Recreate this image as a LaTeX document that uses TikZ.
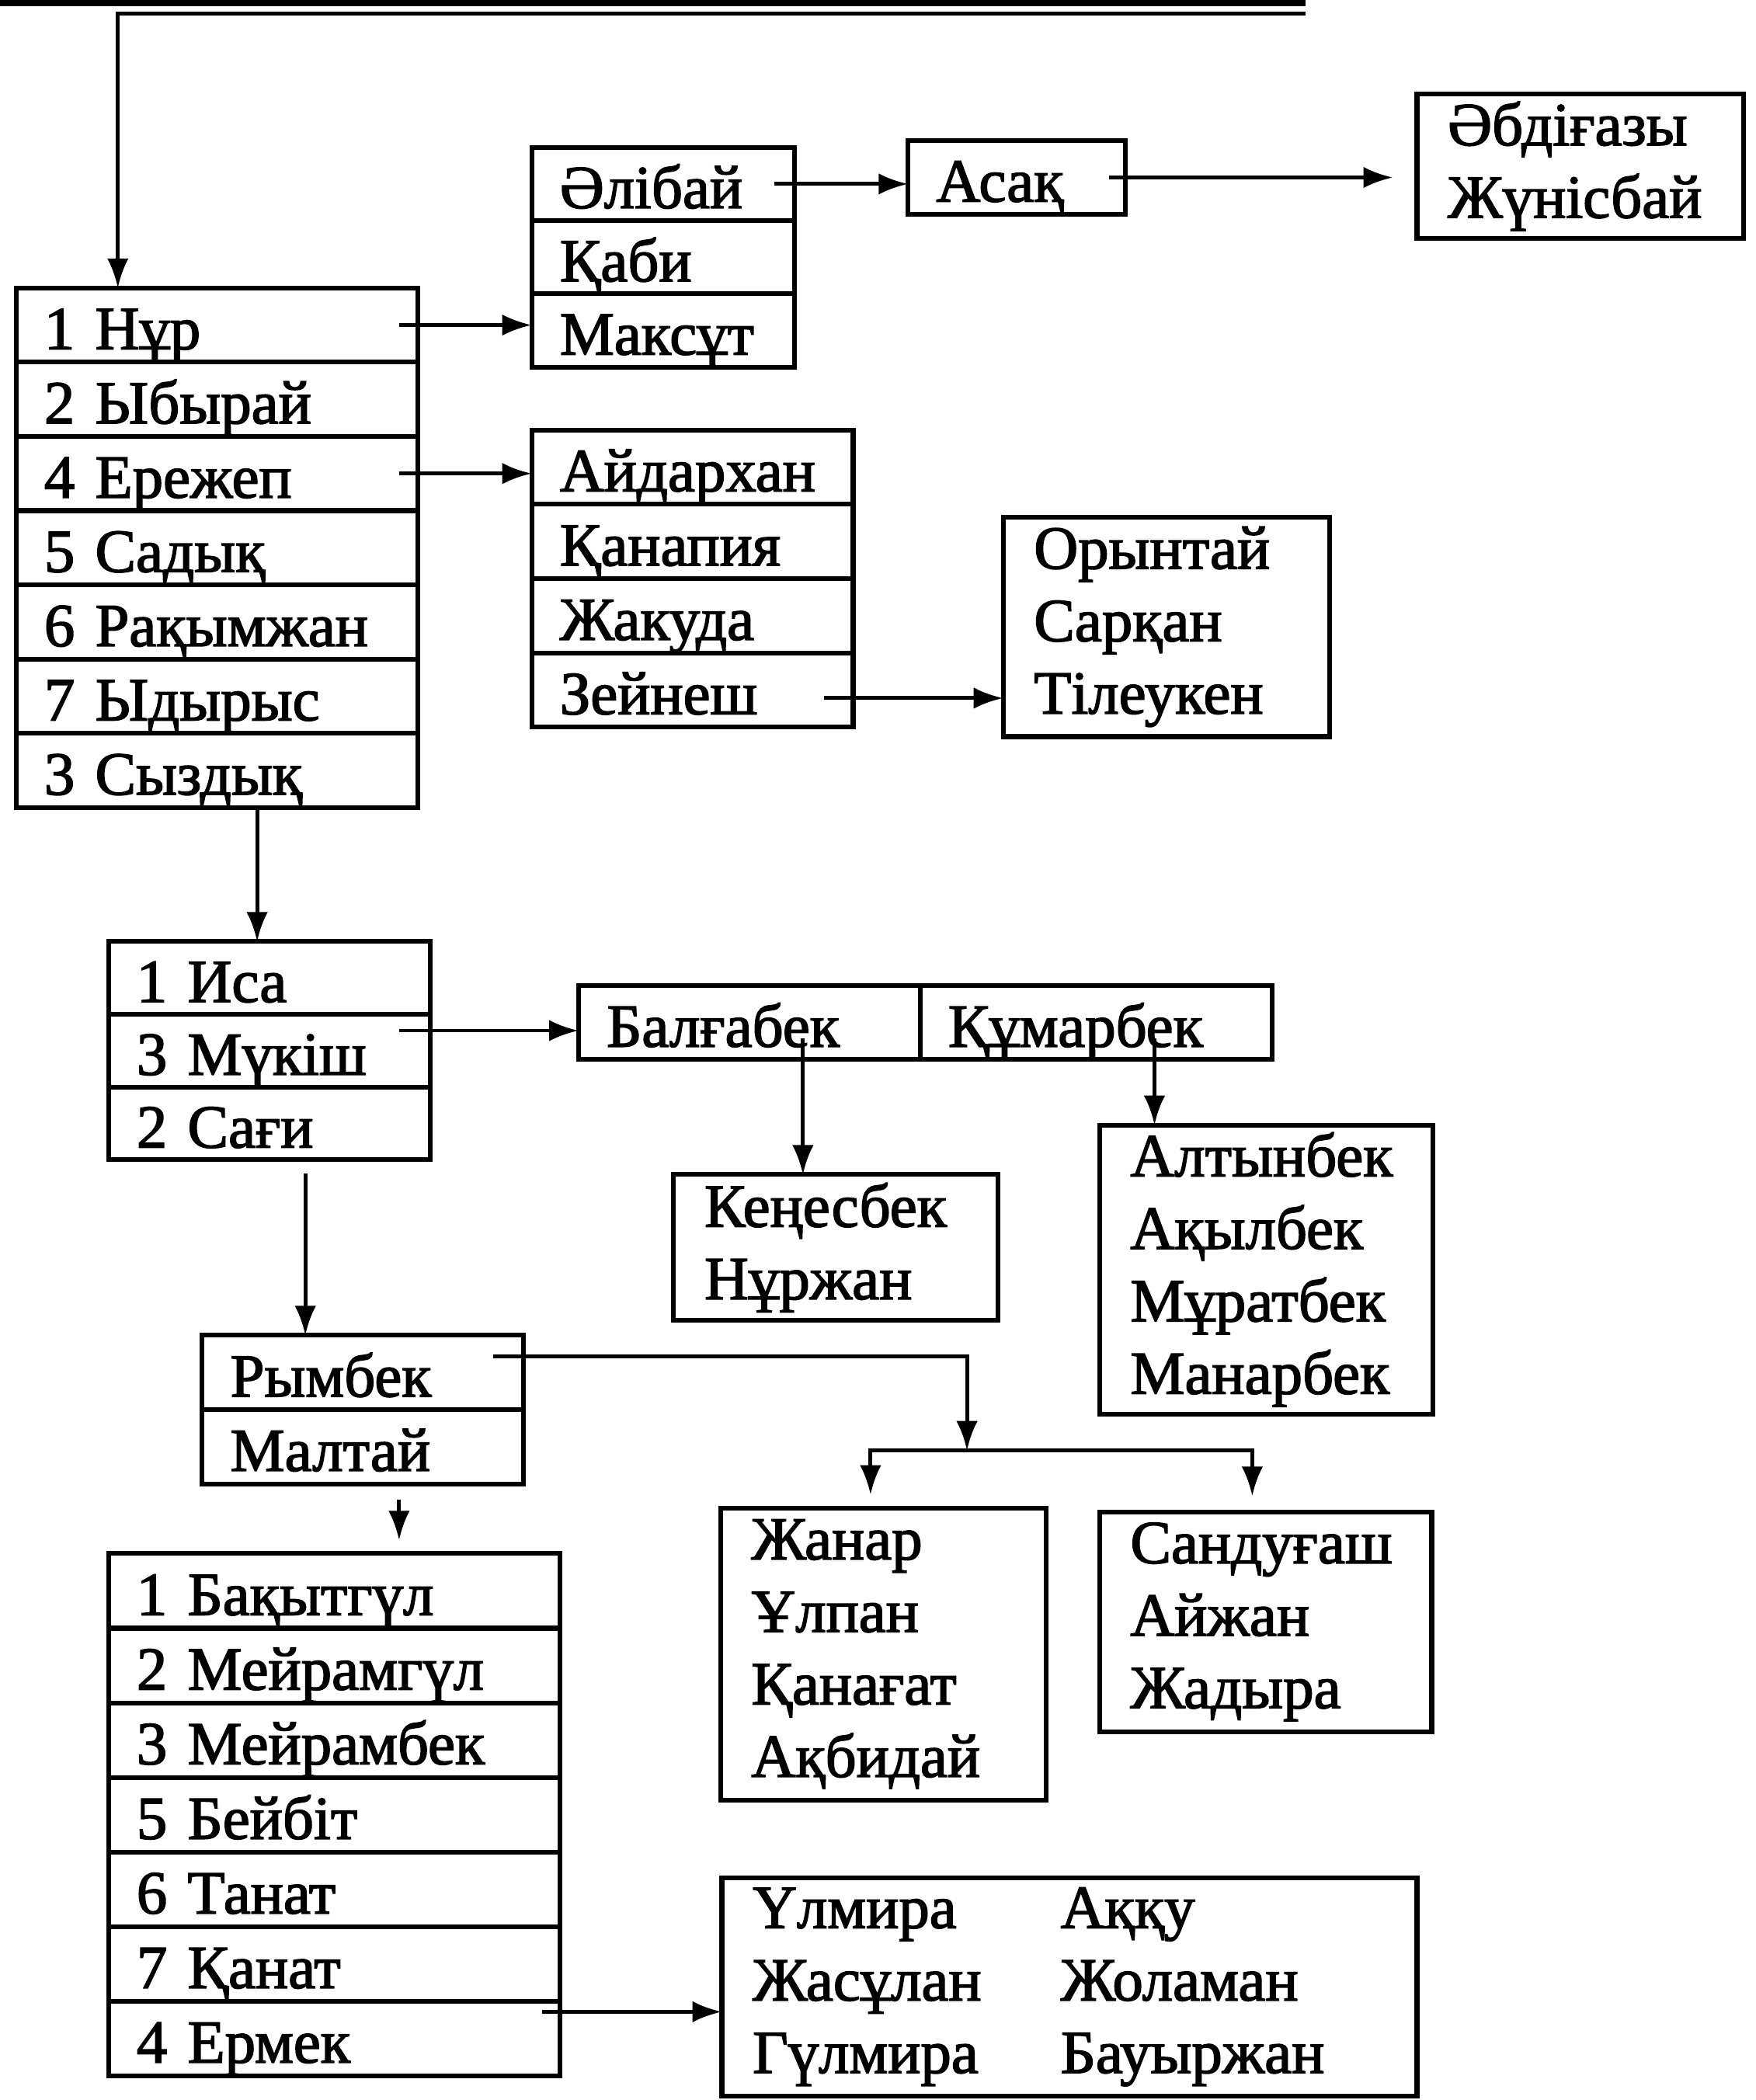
\documentclass[tikz,border=0pt]{standalone}
\usepackage{fontspec}
\setmainfont{Liberation Serif}[FakeBold=2]
\usetikzlibrary{arrows.meta}

\tikzset{
  rowbox/.style={draw,line width=1pt,anchor=north west,align=left,outer sep=0pt,
    inner xsep=2.1mm,inner ysep=0pt,text width=#1,text height=4.2mm,text depth=0.6mm},
  namebox/.style={draw,line width=1pt,anchor=north west,align=left,outer sep=0pt,
    inner xsep=2.3mm,inner ysep=0pt,text width=#1},
}

\begin{document}
\begin{tikzpicture}[x=0.1mm,y=-0.1mm,>={Latex[length=2.2mm,width=1.6mm]},
  font=\fontsize{13}{15.4}\selectfont,line width=0.8pt]
  \useasboundingbox (0,0) rectangle (1311,1568);
  \draw[line width=1.6pt] (0,2) -- (975,2);
  % first column
  \foreach \t [count=\i] in {1 Нұр,2 Ыбырай,4 Ережеп,5 Садық,6 Рақымжан,7 Ыдырыс,3 Сыздық}
    \node[rowbox=2.58cm,minimum height=5.54mm] (n\i) at (12,{215+(\i-1)*55.43}) {\t};
  \foreach \t [count=\i] in {Әлібай,Қаби,Максұт}
    \node[rowbox=1.54cm,minimum height=5.47mm] (m\i) at (397,{110+(\i-1)*54.67}) {\t};
  \node[rowbox=1.2cm,minimum height=5.5mm] (asaq) at (678,105) {Асақ};
  \node[namebox=1.98cm,minimum height=10.8mm] (abdi) at (1058,70) {Әбдіғазы\\Жүнісбай};
  \foreach \t [count=\i] in {Айдархан,Қанапия,Жакуда,Зейнеш}
    \node[rowbox=1.98cm,minimum height=5.55mm] (k\i) at (397,{321+(\i-1)*55.5}) {\t};
  \node[namebox=1.98cm,minimum height=16.4mm] (oryn) at (749,386) {Орынтай\\Сарқан\\Тілеукен};
  % Syzdyk
  \foreach \t [count=\i] in {1 Иса,3 Мүкіш,2 Сағи}
    \node[rowbox=1.98cm,minimum height=5.43mm] (s\i) at (81,{703+(\i-1)*54.33}) {\t};
  \node[rowbox=2.13cm,minimum height=5.5mm] (balg) at (432,736) {Балғабек};
  \node[rowbox=2.21cm,minimum height=5.5mm] (kumar) at (balg.north east) {Құмарбек};
  \node[namebox=1.96cm,minimum height=10.9mm] (ken) at (503,877) {Кеңесбек\\Нұржан};
  \node[namebox=2.03cm,minimum height=21.6mm] (altyn) at (821,840) {Алтынбек\\Ақылбек\\Мұратбек\\Манарбек};
  \foreach \t [count=\i] in {Рымбек,Малтай}
    \node[rowbox=1.98cm,minimum height=5.55mm] (r\i) at (151,{997+(\i-1)*55.5}) {\t};
  \foreach \t [count=\i] in {1 Бақытгүл,2 Мейрамгүл,3 Мейрамбек,5 Бейбіт,6 Танат,7 Қанат,4 Ермек}
    \node[rowbox=2.95cm,minimum height=5.57mm] (b\i) at (81,{1160+(\i-1)*55.71}) {\t};
  \node[namebox=1.97cm,minimum height=21.8mm] (zhanar) at (538,1126) {Жанар\\Ұлпан\\Қанағат\\Ақбидай};
  \node[namebox=2.02cm,minimum height=16.4mm] (sandug) at (821,1129) {Сандуғаш\\Айжан\\Жадыра};
  \node[namebox=4.73cm,minimum height=16.3mm] (ulmira) at (539,1402)
    {\makebox[2.3cm][l]{Үлмира}Аққу\\\makebox[2.3cm][l]{Жасұлан}Жоламан\\\makebox[2.3cm][l]{Гүлмира}Бауыржан};
  % arrows
  \coordinate (top) at (975,10);
  \coordinate (fork) at (722,1083);
  \draw[->] (top) -| ([xshift=7.6mm]n1.north west);
  \draw[->] ([xshift=-1.4mm]n1.east) -- (n1.east -| m3.west);
  \draw[->] ([xshift=-1.5mm]m1.east) -- (m1.east -| asaq.west);
  \draw[->,shorten >=1.8mm] ([xshift=-1.2mm]asaq.east) -- (asaq.east -| abdi.west);
  \draw[->] ([xshift=-1.4mm]n3.east) -- (n3.east -| k1.west);
  \draw[->] ([xshift=-2.2mm,yshift=-0.6mm]k4.east) -- ([yshift=-0.6mm]k4.east -| oryn.west);
  \draw[->] ([xshift=3mm]n7.south) -- ([xshift=3mm]n7.south |- s1.north);
  \draw[->] ([xshift=-2.3mm,yshift=-0.6mm]s2.east |- balg.west) -- ([yshift=-0.6mm]balg.west);
  \draw[->] ([xshift=4mm,yshift=-1.2mm]balg.center) -- ([xshift=4mm]balg.center |- ken.north);
  \draw[->] ([xshift=4.35mm,yshift=-1.2mm]kumar.center) -- ([xshift=4.35mm]kumar.center |- altyn.north);
  \draw[->] ([xshift=2.7mm,yshift=-1mm]s3.south) -- ([xshift=2.7mm]s3.south |- r1.north);
  \draw[->] ([xshift=-2.3mm,yshift=1.2mm]r1.east) -| (fork);
  \draw[->] (fork) -| ([xshift=-0.95mm,yshift=1mm]zhanar.north);
  \draw[->] (fork) -| ([xshift=-1mm,yshift=1.2mm]sandug.north);
  \draw[->] ([xshift=2.7mm,yshift=-1.2mm]r2.south) -- ([xshift=2.7mm,yshift=1mm]r2.south |- b1.north);
  \draw[->] ([xshift=-1.3mm,yshift=2mm]b7.east) -- ([yshift=2mm]b7.east -| ulmira.west);
\end{tikzpicture}
\end{document}
